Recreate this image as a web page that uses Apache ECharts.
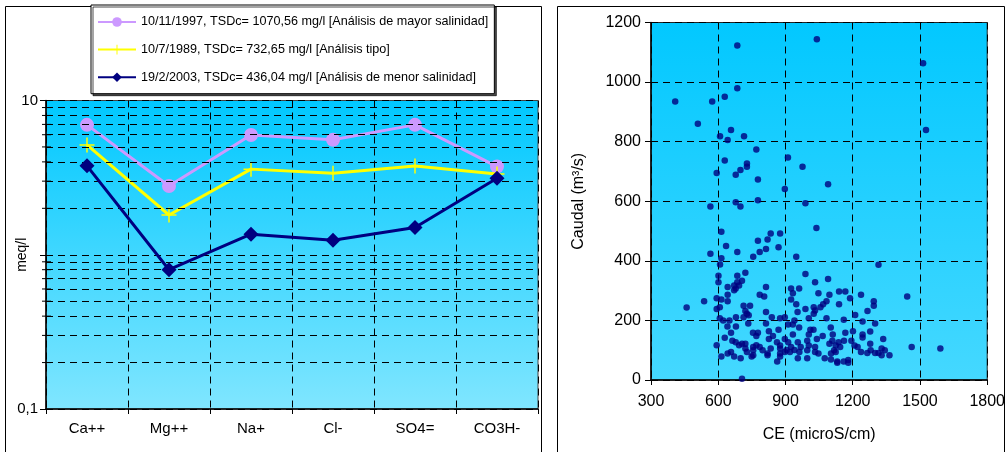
<!DOCTYPE html>
<html><head><meta charset="utf-8">
<script src="https://cdn.jsdelivr.net/npm/echarts@6/dist/echarts.min.js"></script>
<style>html,body{margin:0;padding:0;background:#fff}#c{width:1008px;height:452px}</style>
</head><body><div id="c"></div>
<script>
// ---- Left chart data (meq/l, log scale) ----
const ions = ['Ca++', 'Mg++', 'Na+', 'Cl-', 'SO4=', 'CO3H-'];
const legendNames = [
  '10/11/1997, TSDc= 1070,56 mg/l [Análisis de mayor salinidad]',
  '10/7/1989, TSDc= 732,65 mg/l [Análisis tipo]',
  '19/2/2003, TSDc= 436,04 mg/l [Análisis de menor salinidad]'
];
const s1997 = [6.95, 2.79, 5.98, 5.56, 6.95, 3.73];
const s1989 = [5.15, 1.81, 3.59, 3.38, 3.76, 3.34];
const s2003 = [3.77, 0.80, 1.36, 1.24, 1.50, 3.13];
const minorGridValues = [0.2, 0.3, 0.4, 0.5, 0.6, 0.7, 0.8, 0.9, 2, 3, 4, 5, 6, 7, 8, 9];

// ---- Right chart data (CE vs Caudal) ----
const ceValues = [1040,685,1514,685,408,573,629,509,657,1527,608,715,642,770,911,629,728,728,976,699,593,678,777,1090,897,777,678,989,565,699,1038,
614,834,876,777,820,635,869,813,785,685,565,756,614,948,608,1315,721,989,601,685,706,1090,1032,601,685,671,693,642,678,813,925,961,671,933,1047,1139,1167,1443,1096,1237,785,805,642,593,614,537,642,925,948,1188,1294,1083,1068,1139,1294,1056,1026,989,713,742,459,593,607,1032,1266,721,813,728,954,1026,1211,713,736,839,897,876,1004,1083,679,607,622,650,1160,940,1244,1300,734,813,933,912,641,679,961,1102,1011,1025,869,826,1201,1278,657,755,777,1167,933,1111,1004,844,1244,1244,770,1066,629,826,897,1040,1336,997,1194,1109,1161,663,678,706,862,912,955,1096,1137,1278,593,721,693,770,876,1004,1124,1208,1463,1591,721,756,785,925,968,1032,1144,1222,1329,834,876,905,940,997,1117,756,798,1280,1343,728,657,642,897,920,1032,1124,1237,1265,1300,1315,962,820,876,1047,1103,1364,1329,756,820,614,671,700,749,876,955,997,1075,1103,1131,1131,863,1160,1180,1180,706];
const caudalValues = [1144,1123,1063,979,935,935,951,860,839,839,818,818,806,774,747,737,727,716,716,705,695,689,673,657,641,603,597,593,582,582,510,
498,492,492,467,472,450,446,440,430,430,424,414,409,414,388,387,360,356,350,350,333,339,328,328,328,317,317,312,307,312,307,307,301,291,291,297,297,280,286,286,286,280,286,274,270,264,264,270,254,274,264,264,254,254,249,244,244,238,249,249,243,238,244,233,232,232,228,222,228,222,218,211,217,211,211,207,207,207,211,207,200,200,202,200,196,190,190,190,186,186,180,180,176,176,169,169,169,164,164,163,159,159,159,159,153,153,153,148,153,143,148,148,142,138,138,138,138,132,132,132,132,132,127,122,127,127,127,122,127,122,117,122,117,117,116,116,116,116,111,106,106,111,111,111,111,111,111,111,106,106,106,101,101,100,100,100,100,100,100,94,94,89,94,94,94,94,94,91,91,91,94,89,89,89,89,83,83,83,83,79,79,73,79,79,73,73,73,69,62,58,62,62,67,58,4];
const scatterPoints = ceValues.map((v, i) => [v, caudalValues[i]]);

const FONT = 'Liberation Sans, Arial, sans-serif';
const dash = [7, 5];

const chart = echarts.init(document.getElementById('c'));
chart.setOption({
  animation: false,
  textStyle: { fontFamily: FONT, color: '#000' },
  graphic: [
    { type: 'rect', shape: { x: 5.5, y: 6.5, width: 536, height: 470 }, style: { fill: 'none', stroke: '#000', lineWidth: 1 } },
    { type: 'rect', shape: { x: 557.5, y: 6.5, width: 447, height: 470 }, style: { fill: 'none', stroke: '#000', lineWidth: 1 } }
  ],
  legend: {
    orient: 'vertical',
    left: 91, top: 5,
    itemWidth: 38, itemHeight: 12, itemGap: 14.6,
    padding: [10.5, 6, 10, 6],
    backgroundColor: '#fff',
    borderColor: '#000', borderWidth: 1,
    shadowColor: 'rgba(0,0,0,0.7)', shadowOffsetX: 2, shadowOffsetY: 2, shadowBlur: 0,
    textStyle: { fontSize: 12.6, fontFamily: FONT, color: '#000' },
    data: legendNames
  },
  grid: [
    { left: 46, right: 470, top: 100.5, bottom: 43, show: true, borderColor: '#444', borderWidth: 1,
      backgroundColor: new echarts.graphic.LinearGradient(0, 0, 0, 1, [{ offset: 0, color: '#00C8FF' }, { offset: 1, color: '#80E6FF' }]) },
    { left: 651, right: 20, top: 22.5, bottom: 72, show: true, borderColor: '#222', borderWidth: 1,
      backgroundColor: new echarts.graphic.LinearGradient(0, 0, 0, 1, [{ offset: 0, color: '#02C8FF' }, { offset: 1, color: '#45D8FF' }]) }
  ],
  xAxis: [
    { type: 'category', gridIndex: 0, data: ions, boundaryGap: true,
      axisLine: { lineStyle: { color: '#000', width: 1.5 } },
      axisTick: { show: true, length: 5, lineStyle: { color: '#000' } },
      axisLabel: { fontSize: 15, color: '#000', margin: 12, fontFamily: FONT },
      splitLine: { show: true, lineStyle: { type: dash, color: '#000', width: 1 } } },
    { type: 'value', gridIndex: 1, min: 300, max: 1800, interval: 300,
      name: 'CE (microS/cm)', nameLocation: 'middle', nameGap: 47,
      nameTextStyle: { fontSize: 16, color: '#000', fontFamily: FONT },
      axisLine: { lineStyle: { color: '#000', width: 1.5 } },
      axisTick: { show: true, length: 5, lineStyle: { color: '#000' } },
      axisLabel: { fontSize: 16, color: '#000', margin: 14, fontFamily: FONT, formatter: v => String(v) },
      splitLine: { show: true, lineStyle: { type: dash, color: '#000', width: 1 } } }
  ],
  yAxis: [
    { type: 'log', gridIndex: 0, logBase: 10, min: 0.1, max: 10,
      name: 'meq/l', nameLocation: 'middle', nameGap: 17, nameMoveOverlap: false,
      nameTextStyle: { fontSize: 14, color: '#000', fontFamily: FONT },
      axisLine: { show: true, lineStyle: { color: '#000', width: 1.5 } },
      axisTick: { show: true, length: 6, lineStyle: { color: '#000' } },
      axisLabel: { fontSize: 15, color: '#000', margin: 8, fontFamily: FONT,
        formatter: v => (Math.abs(v - 10) < 1e-9 ? '10' : Math.abs(v - 0.1) < 1e-9 ? '0,1' : '') },
      splitLine: { show: true, lineStyle: { type: dash, color: '#000', width: 1 } } },
    { type: 'value', gridIndex: 1, min: 0, max: 1200, interval: 200,
      name: 'Caudal (m³/s)', nameLocation: 'middle', nameGap: 64,
      nameTextStyle: { fontSize: 16, color: '#000', fontFamily: FONT },
      axisLine: { show: true, lineStyle: { color: '#000', width: 1.5 } },
      axisTick: { show: true, length: 6, lineStyle: { color: '#000' } },
      axisLabel: { fontSize: 16, color: '#000', margin: 10, fontFamily: FONT, formatter: v => String(v) },
      splitLine: { show: true, lineStyle: { type: dash, color: '#000', width: 1 } } }
  ],
  series: [
    { type: 'line', xAxisIndex: 0, yAxisIndex: 0, data: [], silent: true, z: 1,
      markLine: { silent: true, symbol: 'none', animation: false, label: { show: false },
        lineStyle: { type: dash, color: '#000', width: 1 },
        data: minorGridValues.map(v => ({ yAxis: v })) } },
    { type: 'custom', xAxisIndex: 0, yAxisIndex: 0, silent: true, z: 2, clip: false,
      data: minorGridValues.map(v => [0, v]),
      renderItem: (params, api) => {
        const y = api.coord([api.value(0), api.value(1)])[1];
        const x = params.coordSys.x;
        return { type: 'line', shape: { x1: x - 4, y1: y, x2: x + 5, y2: y }, style: { stroke: '#000', lineWidth: 1 } };
      } },
    { name: legendNames[0], type: 'line', xAxisIndex: 0, yAxisIndex: 0, data: s1997, z: 3,
      symbol: 'circle', symbolSize: 14,
      lineStyle: { color: '#CC99FF', width: 3 }, itemStyle: { color: '#CC99FF' } },
    { name: legendNames[1], type: 'line', xAxisIndex: 0, yAxisIndex: 0, data: s1989, z: 4,
      symbol: 'path://M9,0H11V9H20V11H11V20H9V11H0V9H9Z', symbolSize: 15,
      lineStyle: { color: '#FFFF00', width: 3 }, itemStyle: { color: '#FFFF00' } },
    { name: legendNames[2], type: 'line', xAxisIndex: 0, yAxisIndex: 0, data: s2003, z: 5,
      symbol: 'diamond', symbolSize: 15,
      lineStyle: { color: '#000080', width: 3 }, itemStyle: { color: '#000080' } },
    { type: 'scatter', xAxisIndex: 1, yAxisIndex: 1, data: scatterPoints,
      symbol: 'circle', symbolSize: 6.5, itemStyle: { color: '#000080' } }
  ]
});
</script></body></html>
